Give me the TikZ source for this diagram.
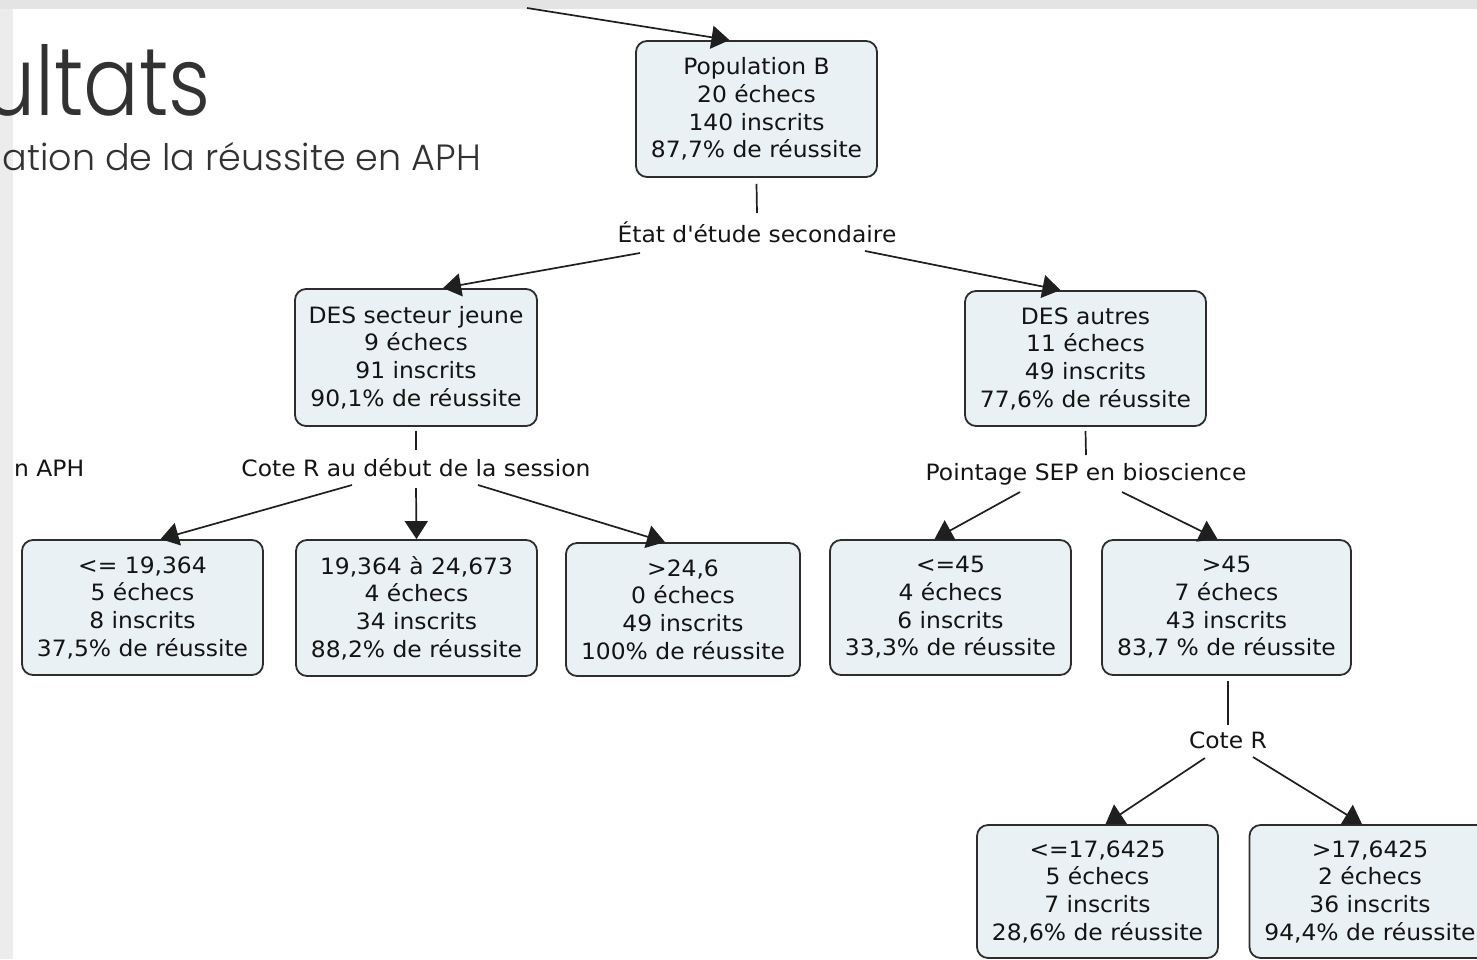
\documentclass[tikz,border=0pt]{standalone}
\usepackage{fontspec}
\setmainfont{DejaVu Sans}[FakeStretch=1.04]
\newfontfamily\titlefont{Poppins Light}[FakeStretch=0.86]
\newfontfamily\subtitlefont{Poppins Light}
\usetikzlibrary{arrows.meta,calc}
\definecolor{boxfill}{RGB}{233,241,244}
\definecolor{boxdraw}{RGB}{45,45,45}
\definecolor{txt}{RGB}{20,20,20}
\definecolor{striptop}{RGB}{228,228,228}
\definecolor{stripleft}{RGB}{236,236,236}
\definecolor{titlecol}{RGB}{50,50,50}
\tikzset{
  leaf/.style={draw=boxdraw, line width=1.8pt, fill=boxfill, rounded corners=11pt,
    align=center, inner sep=0pt, text=txt,
    font=\fontsize{22.5}{27.7}\selectfont},
  lab/.style={anchor=base, inner sep=0pt, text=txt, font=\fontsize{22.5}{27.7}\selectfont},
  link/.style={draw=black!88, line width=1.7pt},
  arr/.style={link, -{Triangle[length=18pt,width=23pt]}}
}
\begin{document}
\begin{tikzpicture}[x=1pt,y=-1pt]
\useasboundingbox (0,0) rectangle (1477,959);
\clip (0,0) rectangle (1477,959);
\fill[white] (0,0) rectangle (1477,959);
% slide frame
\fill[striptop] (0,0) rectangle (1477,9);
\fill[stripleft] (0,9) rectangle (13,959);
% title fragments
\node[anchor=base east, inner sep=0pt, text=titlecol, font=\titlefont\fontsize{96}{96}\selectfont] (title) at (211,115) {ultats};
\node[anchor=base east, inner sep=0pt, text=titlecol, font=\subtitlefont\fontsize{36.5}{36.5}\selectfont] (subtitle) at (481,170) {ation de la réussite en APH};
\node[lab, anchor=base west] (aph) at (14,476) {n APH};

% boxes
\node[leaf, minimum width=241pt, minimum height=136pt] (root) at (756.5,109) {Population B\\20 échecs\\140 inscrits\\87,7\% de réussite};
\node[leaf, minimum width=242pt, minimum height=137pt] (des1) at (416,357.5) {DES secteur jeune\\9 échecs\\91 inscrits\\90,1\% de réussite};
\node[leaf, minimum width=241pt, minimum height=135pt] (des2) at (1085.5,358.5) {DES autres\\11 échecs\\49 inscrits\\77,6\% de réussite};
\node[leaf, minimum width=241pt, minimum height=135pt] (b1) at (142.5,607.5) {<= 19,364\\5 échecs\\8 inscrits\\37,5\% de réussite};
\node[leaf, minimum width=241pt, minimum height=136pt] (b2) at (416.5,608) {19,364 à 24,673\\4 échecs\\34 inscrits\\88,2\% de réussite};
\node[leaf, minimum width=234pt, minimum height=133pt] (b3) at (683,609.5) {>24,6\\0 échecs\\49 inscrits\\100\% de réussite};
\node[leaf, minimum width=241pt, minimum height=135pt] (b4) at (950.5,607.5) {<=45\\4 échecs\\6 inscrits\\33,3\% de réussite};
\node[leaf, minimum width=249pt, minimum height=135pt] (b5) at (1226.5,607.5) {>45\\7 échecs\\43 inscrits\\83,7 \% de réussite};
\node[leaf, minimum width=241pt, minimum height=133pt] (b6) at (1097.5,891.5) {<=17,6425\\5 échecs\\7 inscrits\\28,6\% de réussite};
\node[leaf, minimum width=241pt, minimum height=133pt] (b7) at (1370,891.5) {>17,6425\\2 échecs\\36 inscrits\\94,4\% de réussite};

% split labels
\node[lab] (l1) at (757,242) {État d\textquotesingle étude secondaire};
\node[lab] (l2) at (416,476) {Cote R au début de la session};
\node[lab] (l3) at (1086,480) {Pointage SEP en bioscience};
\node[lab] (l4) at (1228,748) {Cote R};

% incoming connector
\coordinate (src) at (527,8);
\draw[arr] (src) -- ([xshift=-27pt]root.north);

% connectors
\draw[link] ([yshift=-6pt]root.south) -- ([yshift=29pt]l1.base);
\draw[arr] ([xshift=-117pt,yshift=-11pt]l1.base) -- ([xshift=27pt]des1.north);
\draw[arr] ([xshift=108pt,yshift=-9pt]l1.base) -- ([xshift=-25pt]des2.north);

\draw[link] ([yshift=-4pt]des1.south) -- ([yshift=26pt]l2.base);
\draw[arr] ([xshift=-64pt,yshift=-9pt]l2.base) -- ([xshift=18pt]b1.north);
\draw[arr] ([yshift=-12pt]l2.base) -- (b2.north);
\draw[arr] ([xshift=62pt,yshift=-9pt]l2.base) -- ([xshift=-18pt]b3.north);

\draw[link] ([yshift=-4pt]des2.south) -- ([yshift=25pt]l3.base);
\draw[arr] ([xshift=-66pt,yshift=-12pt]l3.base) -- ([xshift=-16pt]b4.north);
\draw[arr] ([xshift=36pt,yshift=-12pt]l3.base) -- ([xshift=-9pt]b5.north);

\draw[link] ([xshift=1.5pt,yshift=-5pt]b5.south) -- ([yshift=23pt]l4.base);
\draw[arr] ([xshift=-23pt,yshift=-10pt]l4.base) -- ([xshift=8pt]b6.north);
\draw[arr] ([xshift=25pt,yshift=-9pt]l4.base) -- ([xshift=-8pt]b7.north);
\end{tikzpicture}
\end{document}
